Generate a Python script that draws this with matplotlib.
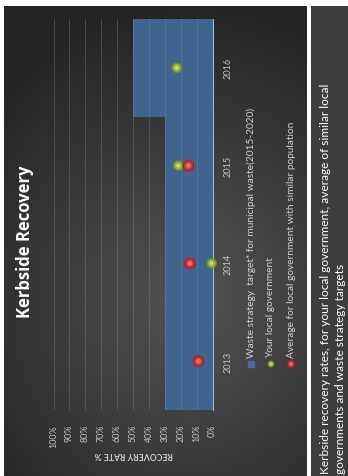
import numpy as np
import matplotlib
matplotlib.use("Agg")
import matplotlib.pyplot as plt
from matplotlib.patches import Rectangle

plt.rcParams['font.family'] = ['Lato', 'DejaVu Sans']

# data
years = ["2013", "2014", "2015", "2016"]
target = [30, 30, 30, 50]                       # waste strategy target (%)
your_lg = [np.nan, 0.5, 21.5, 22.5]             # your local government (%)
avg_lg = [8.9, 14.2, 15.2, np.nan]              # average of similar local governments (%)
value_ticks = [0, 10, 20, 30, 40, 50, 60, 70, 80, 90, 100]
legend_labels = ["Waste strategy  target* for municipal waste(2015-2020)",
                 "Your local government",
                 "Average for local government with similar population"]
caption = ["Kerbside recovery rates, for your local government, average of similar local",
           "governments and waste strategy targets"]

W, H = 348, 477
fig = plt.figure(figsize=(W / 100, H / 100), dpi=100)
fig.patch.set_facecolor("white")


def fx(x):
    return x / W


def fy(y):
    return 1 - y / H


# dark chart panel with a soft radial gradient
bg = fig.add_axes([fx(4), fy(477), fx(307) - fx(4), fy(7) - fy(477)])
gx, gy = np.meshgrid(np.linspace(4, 307, 200), np.linspace(7, 477, 300))
r = np.sqrt(((gx - 190) / 260) ** 2 + ((gy - 300) / 300) ** 2)
r = np.clip(r, 0, 1)
shade = 0.33 - 0.19 * r
bg.imshow(np.dstack([shade, shade, shade]), extent=[4, 307, 477, 7], aspect="auto")
bg.set_axis_off()

# caption panel
cap = fig.add_axes([fx(311), 0, 1 - fx(311), fy(7)])
cap.set_facecolor("#3d3d3d")
cap.set_xticks([])
cap.set_yticks([])
for s in cap.spines.values():
    s.set_visible(False)
cap_x = [325.5, 341]
for line, x in zip(caption, cap_x):
    fig.text(fx(x), fy(474), line, rotation=90, ha="center", va="bottom",
             color="white", fontsize=8.6)

# plot area (chart is drawn rotated: values run right-to-left, years bottom-to-top)
ax = fig.add_axes([fx(53.5), fy(411), fx(212.5) - fx(53.5), fy(20) - fy(411)])
ax.patch.set_alpha(0)
idx = np.arange(len(years))
ax.barh(idx, target, height=1.0, color="#3f6591", zorder=1)

ax.set_xlim(100, 0)
ax.set_ylim(-0.5, len(years) - 0.5)
ax.set_xticks(value_ticks)
ax.set_xticklabels([f"{v}%" for v in value_ticks])
ax.grid(axis="x", color="#8a8a8a", lw=0.6, alpha=0.4, zorder=2)
ax.set_axisbelow(False)
ax.tick_params(axis="x", length=0, pad=10, labelrotation=90, labelsize=6.4,
               labelcolor="#c4c4c4")
ax.yaxis.tick_right()
ax.set_yticks(idx)
ax.set_yticklabels(years)
ax.tick_params(axis="y", length=0, pad=8, labelrotation=90, labelsize=6.6,
               labelcolor="#c4c4c4")
for lab in ax.get_yticklabels():
    lab.set_va("center")
for name, s in ax.spines.items():
    s.set_visible(name == "right")
ax.spines["right"].set_color("#a9b8cc")
ax.spines["right"].set_linewidth(0.8)


def sphere(axis, x, y, base, mid, light, size, z):
    axis.scatter(x, y, s=size, color=base, edgecolors="none", zorder=z)
    axis.scatter(x, y, s=size * 0.55, color=mid, edgecolors="none", zorder=z + 0.1)
    axis.scatter(x, y, s=size * 0.15, color=light, edgecolors="none", zorder=z + 0.2)


sphere(ax, your_lg, idx, "#6f8f22", "#93b53a", "#c4dc6a", 58, 5)
sphere(ax, avg_lg, idx, "#b01e1e", "#d93535", "#f07272", 70, 6)
for c in ax.collections:
    c.set_clip_on(False)

# value axis title (reads upside down in the rotated chart)
fig.text(fx(134), fy(454), "RECOVERY RATE %", rotation=180, ha="center", va="center",
         color="#cfcfcf", fontsize=6.2, fontweight="bold")

# chart title
fig.text(fx(25), fy(242), "Kerbside Recovery", rotation=90, ha="center", va="center",
         color="white", fontsize=12, fontweight="bold", family=["Open Sans", "DejaVu Sans"])

# legend, drawn by hand so it can be rotated like the rest
leg_x = [251, 271, 291]
leg_y = 365
fig.patches.append(Rectangle((fx(leg_x[0] - 3), fy(leg_y + 3)), 6 / W, 6 / H,
                             transform=fig.transFigure, color="#3f6ea8"))
lax = fig.add_axes([0, 0, 1, 1])
lax.set_xlim(0, W)
lax.set_ylim(H, 0)
lax.set_axis_off()
lax.patch.set_alpha(0)
sphere(lax, [leg_x[1]], [leg_y], "#6f8f22", "#93b53a", "#c4dc6a", 24, 5)
sphere(lax, [leg_x[2]], [leg_y], "#b01e1e", "#d93535", "#f07272", 34, 5)
for label, x in zip(legend_labels, leg_x):
    fig.text(fx(x), fy(358), label, rotation=90, ha="center", va="bottom",
             color="#d0d0d0", fontsize=7.3)

fig.savefig("out.png", dpi=100, facecolor="white")
